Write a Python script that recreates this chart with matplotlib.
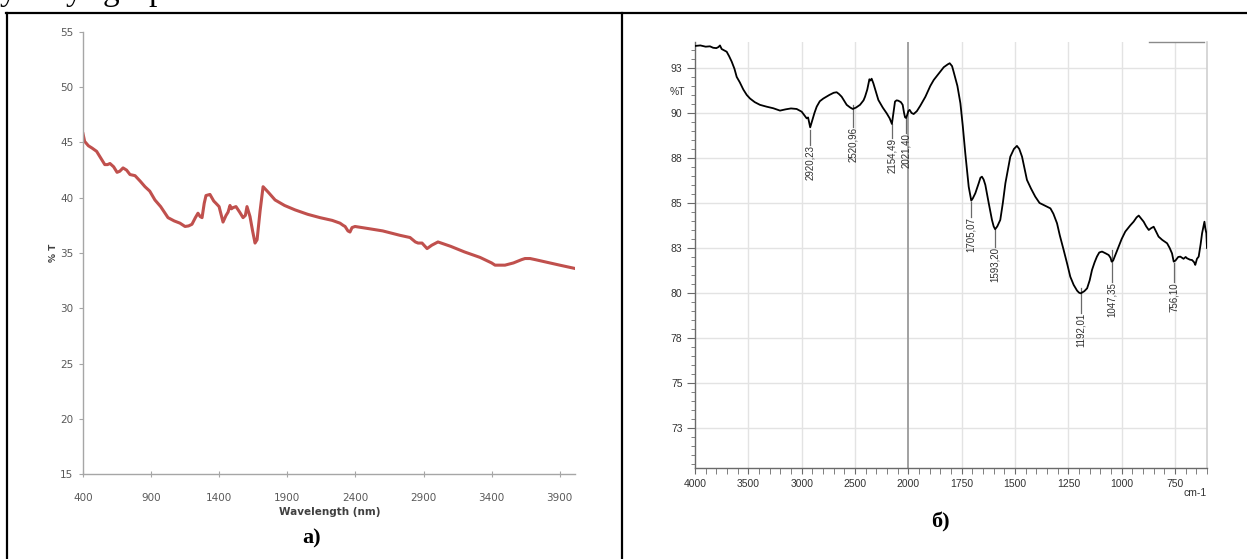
import numpy as np
import matplotlib
matplotlib.use("Agg")
import matplotlib.pyplot as plt
from matplotlib.lines import Line2D
from matplotlib.ticker import FixedLocator

# ---------------- data: panel a) ----------------
nm = [400, 412, 440, 466, 500, 525, 560, 580, 598, 625, 650, 670, 694, 720, 745, 782,
      820, 855, 890, 928, 970, 1024, 1070, 1112, 1149, 1175, 1200, 1225, 1244, 1260,
      1274, 1290, 1303, 1332, 1360, 1376, 1399, 1428, 1450, 1465, 1479, 1490, 1501,
      1523, 1550, 1575, 1592, 1604, 1626, 1645, 1663, 1678, 1700, 1722, 1760, 1810,
      1880, 1957, 2050, 2140, 2230, 2287, 2310, 2324, 2345, 2360, 2375, 2397, 2500,
      2600, 2727, 2801, 2840, 2860, 2889, 2926, 2960, 3006, 3100, 3200, 3315, 3400,
      3425, 3498, 3560, 3620, 3645, 3682, 3720, 3792, 3900, 4012]
trans_a = [45.8, 45.1, 44.7, 44.5, 44.2, 43.7, 43.0, 43.0, 43.1, 42.8, 42.3, 42.4, 42.7,
           42.5, 42.1, 42.0, 41.5, 41.0, 40.6, 39.8, 39.2, 38.2, 37.9, 37.7, 37.4, 37.45,
           37.6, 38.2, 38.6, 38.3, 38.2, 39.5, 40.2, 40.3, 39.7, 39.5, 39.2, 37.8, 38.4,
           38.7, 39.3, 39.0, 39.1, 39.2, 38.7, 38.2, 38.4, 39.2, 38.3, 37.0, 35.9, 36.2,
           38.8, 41.0, 40.5, 39.8, 39.3, 38.9, 38.5, 38.2, 37.95, 37.7, 37.5, 37.4, 37.0,
           36.9, 37.3, 37.4, 37.2, 37.0, 36.6, 36.4, 36.0, 35.9, 35.9, 35.4, 35.7, 36.0,
           35.6, 35.1, 34.6, 34.1, 33.9, 33.9, 34.1, 34.4, 34.5, 34.5, 34.4, 34.2, 33.9,
           33.6]
a_xticks = [400, 900, 1400, 1900, 2400, 2900, 3400, 3900]
a_yticks = [15, 20, 25, 30, 35, 40, 45, 50, 55]

# ---------------- data: panel б) ----------------
wavenumber = [4000, 3950, 3900, 3860, 3830, 3800, 3780, 3766, 3750, 3720, 3703, 3680, 3656,
              3630, 3609, 3580, 3547, 3515, 3484, 3440, 3391, 3330, 3266, 3203, 3150, 3100,
              3047, 3000, 2965, 2953, 2940, 2920, 2900, 2880, 2859, 2830, 2797, 2740, 2700,
              2672, 2650, 2625, 2578, 2545, 2521, 2490, 2453, 2420, 2406, 2385, 2365, 2355,
              2344, 2328, 2305, 2281, 2240, 2203, 2175, 2154, 2140, 2125, 2110, 2094, 2070,
              2053, 2040, 2031, 2021, 2010, 2000, 1994, 1985, 1975, 1960, 1944, 1920, 1897,
              1881, 1850, 1834, 1815, 1806, 1795, 1788, 1770, 1756, 1745, 1733, 1717, 1705,
              1698, 1686, 1670, 1662, 1655, 1647, 1639, 1623, 1608, 1600, 1593, 1583, 1569,
              1557, 1545, 1522, 1505, 1491, 1480, 1467, 1455, 1444, 1425, 1405, 1385, 1366,
              1350, 1334, 1320, 1303, 1290, 1272, 1255, 1241, 1225, 1209, 1200, 1192, 1175,
              1162, 1150, 1139, 1127, 1116, 1105, 1092, 1075, 1061, 1052, 1047, 1040, 1030,
              1014, 1000, 983, 960, 944, 930, 920, 910, 897, 885, 873, 862, 850, 838, 827,
              810, 787, 775, 764, 756, 748, 735, 725, 710, 700, 694, 680, 670, 660, 655, 647,
              639, 630, 623, 612, 608, 603, 600]
transmittance = [93.72, 93.75, 93.68, 93.70, 93.62, 93.60, 93.66, 93.75, 93.55, 93.45, 93.40,
                 93.15, 92.85, 92.45, 92.00, 91.70, 91.30, 91.00, 90.80, 90.60, 90.45, 90.35,
                 90.26, 90.13, 90.20, 90.25, 90.22, 90.07, 89.80, 89.70, 89.75, 89.20, 89.60,
                 90.00, 90.35, 90.65, 90.80, 91.00, 91.12, 91.15, 91.05, 90.90, 90.45, 90.30,
                 90.22, 90.30, 90.45, 90.70, 90.90, 91.30, 91.87, 91.80, 91.90, 91.65, 91.20,
                 90.72, 90.30, 89.98, 89.70, 89.39, 90.00, 90.63, 90.70, 90.68, 90.60, 90.45,
                 90.00, 89.76, 89.72, 89.90, 90.10, 90.17, 90.00, 89.94, 90.10, 90.40, 90.90,
                 91.50, 91.83, 92.30, 92.54, 92.70, 92.76, 92.60, 92.30, 91.50, 90.54, 89.30,
                 87.76, 85.90, 85.13, 85.25, 85.54, 86.10, 86.40, 86.46, 86.30, 86.00, 84.98,
                 84.06, 83.70, 83.54, 83.70, 84.06, 85.00, 86.10, 87.57, 88.00, 88.17, 88.00,
                 87.57, 86.90, 86.28, 85.80, 85.35, 85.00, 84.89, 84.80, 84.70, 84.40, 83.87,
                 83.20, 82.39, 81.60, 80.91, 80.45, 80.13, 80.02, 79.98, 80.10, 80.26, 80.70,
                 81.28, 81.70, 82.02, 82.25, 82.30, 82.20, 82.11, 81.95, 81.74, 81.80, 82.10,
                 82.57, 83.00, 83.41, 83.75, 83.96, 84.20, 84.30, 84.15, 83.96, 83.70, 83.50,
                 83.60, 83.68, 83.40, 83.13, 82.95, 82.76, 82.50, 82.20, 81.74, 81.80, 82.00,
                 82.02, 81.90, 82.00, 81.93, 81.85, 81.83, 81.70, 81.56, 81.90, 82.02, 82.70,
                 83.32, 83.96, 83.60, 83.32, 82.50]
peak_positions = [2920.23, 2520.96, 2154.49, 2021.40, 1705.07, 1593.20, 1192.01, 1047.35, 756.10]
peak_labels = ["2920,23", "2520,96", "2154,49", "2021,40", "1705,07", "1593,20",
               "1192,01", "1047,35", "756,10"]
peak_line_top = [89.06, 90.44, 89.39, 89.72, 85.06, 83.50, 80.28, 82.39, 81.67]
peak_text_top = [88.22, 89.22, 88.61, 88.89, 84.22, 82.56, 78.89, 80.61, 80.61]
b_xticks = [4000, 3500, 3000, 2500, 2000, 1750, 1500, 1250, 1000, 750]
b_yticks = [72.5, 75, 77.5, 80, 82.5, 85, 87.5, 90, 92.5]
b_yticklabels = ["73", "75", "78", "80", "83", "85", "88", "90", "93"]

W, H = 1247, 559
fig = plt.figure(figsize=(W / 100, H / 100), dpi=100)
fig.patch.set_facecolor("white")


def fx(px):
    return px / W


def fy(py):
    return 1 - py / H


narrow = ["Liberation Sans Narrow", "DejaVu Sans"]
arial = ["Liberation Sans", "DejaVu Sans"]
serif = ["Liberation Serif", "DejaVu Serif"]

# ---------------- panel a) ----------------
axa = fig.add_axes([fx(83), fy(474), (575 - 83) / W, (474 - 32) / H])
axa.plot(nm, trans_a, color="#C0504D", lw=2.2, solid_joinstyle="round")
axa.set_xlim(400, 4012)
axa.set_ylim(15, 55)
axa.set_xticks(a_xticks)
axa.set_yticks(a_yticks)
for s in ["top", "right"]:
    axa.spines[s].set_visible(False)
for s in ["left", "bottom"]:
    axa.spines[s].set_color("#a6a6a6")
    axa.spines[s].set_linewidth(1.0)
axa.tick_params(axis="y", direction="out", length=3, color="#a6a6a6", pad=4,
                labelsize=7.5, labelcolor="#595959")
axa.tick_params(axis="x", direction="inout", length=4, color="#a6a6a6", pad=12,
                labelsize=7.5, labelcolor="#595959")
for lab in axa.get_xticklabels() + axa.get_yticklabels():
    lab.set_family(narrow)
axa.set_facecolor("none")
fig.text(fx(330), fy(512), "Wavelength (nm)", ha="center", va="center", fontsize=7.5,
         fontweight="bold", color="#404040", family=narrow)
fig.text(fx(54), fy(253), "% T", ha="center", va="center", rotation=90, fontsize=6.5,
         fontweight="bold", color="#404040", family=narrow)

# ---------------- panel б) ----------------
# FTIR-style axis: scale doubles below 2000 cm-1
def fwd(w):
    w = np.asarray(w, dtype=float)
    return np.where(w >= 2000, 1000 + (w - 2000) / 2.0, w - 1000)


def inv(u):
    u = np.asarray(u, dtype=float)
    return np.where(u >= 1000, 2000 + 2.0 * (u - 1000), u + 1000)


axb = fig.add_axes([fx(695), fy(468), (1207 - 695) / W, (468 - 42) / H])
axb.set_xscale("function", functions=(fwd, inv))
axb.set_xlim(4000, 600)
axb.set_ylim(70.28, 93.94)
axb.set_xticks(b_xticks)
axb.set_xticklabels([str(t) for t in b_xticks])
minor_x = [w for w in range(3900, 2000, -100) if w % 500] + \
          [w for w in range(1950, 599, -50) if w % 250]
axb.xaxis.set_minor_locator(FixedLocator(minor_x))
axb.set_yticks(b_yticks)
axb.set_yticklabels(b_yticklabels)
axb.yaxis.set_minor_locator(FixedLocator(list(np.arange(70.5, 93.6, 0.5))))

for yv in b_yticks:
    axb.axhline(yv, color="#e3e3e3", lw=1.0, zorder=0)
for xv in b_xticks[1:]:
    axb.axvline(xv, color="#9a9a9a" if xv == 2000 else "#e3e3e3",
                lw=1.3 if xv == 2000 else 1.0, zorder=0)

axb.plot(wavenumber, transmittance, color="black", lw=1.3, zorder=3)

for w, lab, lt, tt in zip(peak_positions, peak_labels, peak_line_top, peak_text_top):
    axb.plot([w, w], [lt, tt], color="#6a6a6a", lw=0.9, zorder=2)
    axb.text(w, tt, lab, rotation=90, ha="center", va="top", fontsize=7,
             color="#303030", family=arial, zorder=4)

axb.spines["top"].set_visible(False)
axb.spines["right"].set_color("#d0d0d0")
axb.spines["right"].set_linewidth(1.2)
for s in ["left", "bottom"]:
    axb.spines[s].set_color("#6a6a6a")
    axb.spines[s].set_linewidth(1.0)
axb.tick_params(axis="both", which="major", direction="out", color="#6a6a6a",
                labelsize=7.5, labelcolor="#333333")
axb.tick_params(axis="y", which="major", length=6, pad=3)
axb.tick_params(axis="y", which="minor", length=3, color="#6a6a6a")
axb.tick_params(axis="x", which="major", length=4, pad=4)
axb.tick_params(axis="x", which="minor", length=4, color="#6a6a6a")
for lab in axb.get_xticklabels() + axb.get_yticklabels():
    lab.set_family(arial)
axb.plot([0.887, 0.994], [1.0, 1.0], transform=axb.transAxes, color="#8a8a8a",
         lw=1.0, clip_on=False)
fig.text(fx(677), fy(92), "%T", ha="center", va="center", fontsize=7.5,
         color="#333333", family=arial)
fig.text(fx(1207), fy(493), "cm-1", ha="right", va="center", fontsize=7.5,
         color="#333333", family=arial)

# ---------------- captions & table frame ----------------
fig.text(fx(312), fy(538), "а)", ha="center", va="center", fontsize=16,
         fontweight="bold", family=serif)
fig.text(fx(940), fy(522), "б)", ha="center", va="center", fontsize=16,
         fontweight="bold", family=serif)

for (x0, y0, x1, y1) in [(6, 13, W, 13), (7, 13, 7, H), (622, 13, 622, H)]:
    fig.add_artist(Line2D([fx(x0), fx(x1)], [fy(y0), fy(y1)], color="black", lw=1.6,
                          transform=fig.transFigure))

# cut-off line of text above the table (only descenders visible)
for xpos, ch in [(0, "y"), (66, "y"), (103, "g"), (148, "p")]:
    fig.text(fx(xpos), fy(0), ch, ha="left", va="baseline", fontsize=24, family=serif)

fig.savefig("out.png", dpi=100)
